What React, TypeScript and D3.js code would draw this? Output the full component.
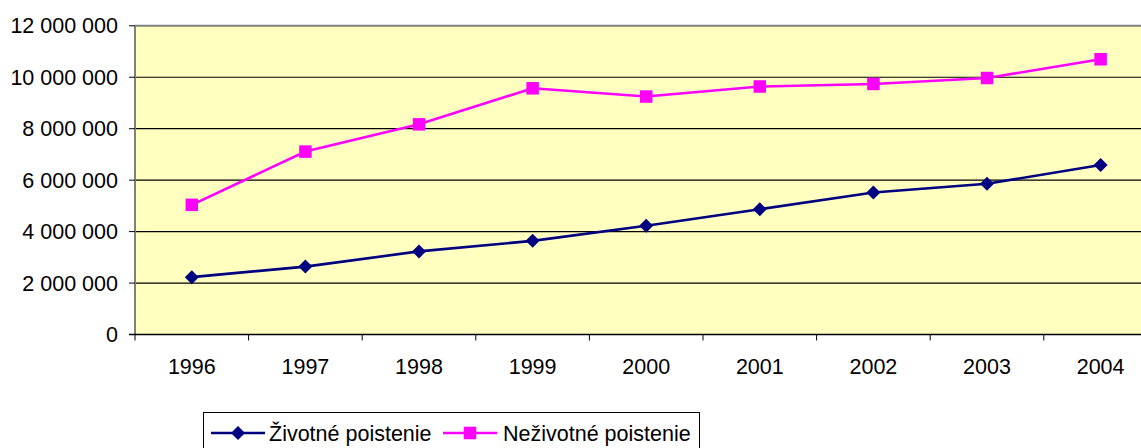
import React from 'react';
import * as d3 from 'd3';

const years = ['1996', '1997', '1998', '1999', '2000', '2001', '2002', '2003', '2004'];
const zivotne = [2230000, 2640000, 3230000, 3640000, 4230000, 4870000, 5520000, 5860000, 6590000];
const nezivotne = [5040000, 7110000, 8170000, 9570000, 9250000, 9640000, 9740000, 9970000, 10700000];
const yTicks = [0, 2000000, 4000000, 6000000, 8000000, 10000000, 12000000];
const seriesNames = ['Životné poistenie', 'Neživotné poistenie'];

const W = 1141;
const H = 448;
const FONT = 'Arial, "Liberation Sans", sans-serif';

const fmt = (v: number) => d3.format(',')(v).replace(/,/g, ' ');

function Diamond({ x, y, r, fill }: { x: number; y: number; r: number; fill: string }) {
  return <path d={`M${x},${y - r}L${x + r},${y}L${x},${y + r}L${x - r},${y}Z`} fill={fill} />;
}

function Square({ x, y, s, fill }: { x: number; y: number; s: number; fill: string }) {
  return <rect x={x - s / 2} y={y - s / 2} width={s} height={s} fill={fill} />;
}

export default function App() {
  const left = 135;
  const top = 25.8;
  const bottom = 334.5;
  const step = 113.6;
  const right = left + step * years.length;

  const x = d3.scaleBand<string>().domain(years).range([left, right]).padding(0);
  const y = d3.scaleLinear().domain([0, 12000000]).range([bottom, top]);
  const cx = (d: string) => (x(d) as number) + x.bandwidth() / 2;

  const line = d3
    .line<number>()
    .x((_, i) => cx(years[i]))
    .y((v) => y(v));

  const boundaries = d3.range(years.length + 1).map((i) => left + i * x.step());

  return (
    <div style={{ position: 'absolute', left: 0, top: 0 }}>
      <svg width={W} height={H} style={{ display: 'block', fontFamily: FONT }}>
        <rect x={0} y={0} width={W} height={H} fill="#ffffff" />
        <rect x={left} y={top} width={right - left} height={bottom - top} fill="#FFFFC0" />
        {yTicks.slice(1, -1).map((t) => (
          <line key={t} x1={left} x2={right} y1={y(t)} y2={y(t)} stroke="#000" strokeWidth={1.2} />
        ))}
        <line x1={left} x2={right} y1={top} y2={top} stroke="#808080" strokeWidth={2} />
        <line x1={left} x2={left} y1={top} y2={bottom} stroke="#808080" strokeWidth={2} />
        <line x1={left - 6} x2={right} y1={bottom} y2={bottom} stroke="#000" strokeWidth={1.5} />

        {yTicks.map((t) => (
          <g key={t}>
            <line x1={left - 6} x2={left} y1={y(t)} y2={y(t)} stroke="#000" strokeWidth={1} />
            <text x={118} y={y(t)} dy="0.35em" textAnchor="end" fontSize={21.5} fill="#000">
              {fmt(t)}
            </text>
          </g>
        ))}

        {boundaries.map((b) => (
          <line key={b} x1={b} x2={b} y1={bottom} y2={bottom + 6} stroke="#000" strokeWidth={1} />
        ))}
        {years.map((yr) => (
          <text key={yr} x={cx(yr)} y={374} textAnchor="middle" fontSize={21.5} fill="#000">
            {yr}
          </text>
        ))}

        <path d={line(zivotne) as string} fill="none" stroke="#000080" strokeWidth={2.6} />
        <path d={line(nezivotne) as string} fill="none" stroke="#FF00FF" strokeWidth={2.6} />
        {zivotne.map((v, i) => (
          <Diamond key={i} x={cx(years[i])} y={y(v)} r={7} fill="#000080" />
        ))}
        {nezivotne.map((v, i) => (
          <Square key={i} x={cx(years[i])} y={y(v)} s={12.5} fill="#FF00FF" />
        ))}

        <g>
          <rect x={203.5} y={412.5} width={496} height={44} fill="#fff" stroke="#000" strokeWidth={1} />
          <line x1={211} x2={265} y1={433} y2={433} stroke="#000080" strokeWidth={2.6} />
          <Diamond x={238} y={433} r={7} fill="#000080" />
          <text x={269} y={433} dy="0.35em" fontSize={21.5} fill="#000">
            {seriesNames[0]}
          </text>
          <line x1={443} x2={497} y1={433} y2={433} stroke="#FF00FF" strokeWidth={2.6} />
          <Square x={470} y={433} s={12.5} fill="#FF00FF" />
          <text x={503} y={433} dy="0.35em" fontSize={21.5} fill="#000">
            {seriesNames[1]}
          </text>
        </g>
      </svg>
    </div>
  );
}
